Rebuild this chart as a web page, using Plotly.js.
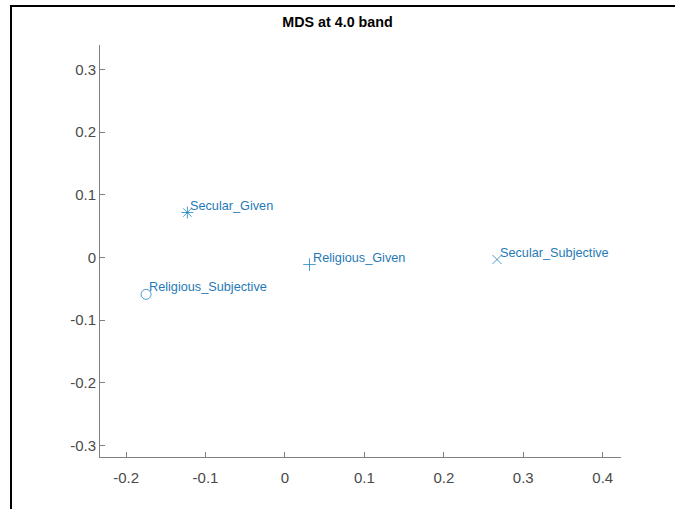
<!DOCTYPE html>
<html>
<head>
<meta charset="utf-8">
<script src="https://cdn.plot.ly/plotly-3.0.1.min.js"></script>
<style>
  html, body { margin: 0; padding: 0; background: #fff; overflow: hidden; }
  #wrap { position: relative; width: 675px; height: 509px; overflow: hidden; }
  #chart { width: 675px; height: 509px; }
  #frame { position: absolute; left: 10px; top: 5px; width: 665px; height: 504px;
           border-top: 2.5px solid #000; border-left: 2.5px solid #000;
           pointer-events: none; box-sizing: border-box; }
</style>
</head>
<body>
<div id="wrap">
  <div id="chart"></div>
  <div id="frame"></div>
</div>
<script>
// Data
const labels = ["Secular_Given", "Religious_Given", "Secular_Subjective", "Religious_Subjective"];
const xs = [-0.1228, 0.0309, 0.2669, -0.1748];
const ys = [0.0716, -0.0115, -0.0035, -0.0590];
const symbols = ["asterisk-open", "cross-thin-open", "x-thin-open", "circle-open"];

const xTickVals = [-0.2, -0.1, 0, 0.1, 0.2, 0.3, 0.4];
const xTickText = ["-0.2", "-0.1", "0", "0.1", "0.2", "0.3", "0.4"];
const yTickVals = [-0.3, -0.2, -0.1, 0, 0.1, 0.2, 0.3];
const yTickText = ["-0.3", "-0.2", "-0.1", "0", "0.1", "0.2", "0.3"];

const blue = "#0072BD";
const labelBlue = "#1f7ab8";
const font = "Liberation Sans, Arial, Helvetica, sans-serif";

const trace = {
  type: "scatter",
  mode: "markers",
  x: xs,
  y: ys,
  marker: { symbol: symbols, size: [10, 9, 9, 10], color: blue, line: { color: blue, width: 1 } },
  hoverinfo: "skip"
};

const annotations = labels.map((t, i) => ({
  x: xs[i], y: ys[i], xref: "x", yref: "y",
  text: t, showarrow: false,
  xanchor: "left", yanchor: "middle",
  xshift: 1, yshift: 7,
  font: { family: font, size: 12.7, color: labelBlue }
}));

const axisCommon = {
  showgrid: false, zeroline: false,
  showline: true, linecolor: "#808080", linewidth: 1,
  ticks: "inside", ticklen: 5, tickcolor: "#808080", tickwidth: 1,
  tickfont: { family: font, size: 15, color: "#4a4a4a" },
  tickmode: "array",
  mirror: false
};

const layout = {
  width: 675, height: 509,
  margin: { l: 100, r: 54, t: 45, b: 52 },
  paper_bgcolor: "#fff", plot_bgcolor: "#fff",
  showlegend: false,
  title: {
    text: "<b>MDS at 4.0 band</b>",
    font: { family: font, size: 14.3, color: "#000" },
    x: 0.5, xref: "container", xanchor: "center",
    y: 1 - 22 / 509, yanchor: "middle"
  },
  xaxis: Object.assign({}, axisCommon, {
    range: [-0.2328, 0.423],
    tickvals: xTickVals, ticktext: xTickText,
    ticklabelstandoff: 7
  }),
  yaxis: Object.assign({}, axisCommon, {
    range: [-0.3187, 0.339],
    tickvals: yTickVals, ticktext: yTickText
  }),
  annotations: annotations
};

Plotly.newPlot("chart", [trace], layout, { staticPlot: true, displayModeBar: false });
</script>
</body>
</html>
